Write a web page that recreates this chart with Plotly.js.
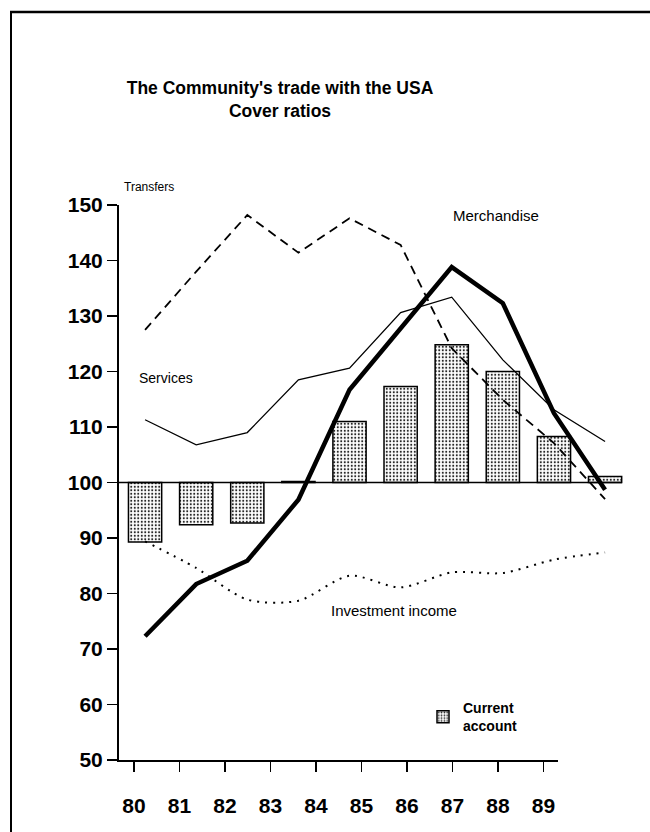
<!DOCTYPE html>
<html>
<head>
<meta charset="utf-8">
<script src="https://cdn.plot.ly/plotly-3.0.1.min.js"></script>
<style>
  html, body { margin: 0; padding: 0; background: #fff; }
  #chart { width: 650px; height: 832px; }
</style>
</head>
<body>
<div id="chart"></div>
<script>
// ---- data ----
const years = [80, 81, 82, 83, 84, 85, 86, 87, 88, 89];
const tickLabels = ["80", "81", "82", "83", "84", "85", "86", "87", "88", "89"];
const currentAccount = [89.3, 92.4, 92.7, 100.2, 111.0, 117.3, 124.8, 120.0, 108.3, 101.1];
const transfers = [127.5, 138.0, 148.2, 141.4, 147.6, 142.8, 124.2, 114.9, 107.1, 97.0];
const services = [111.3, 106.8, 109.0, 118.5, 120.6, 130.6, 133.4, 122.1, 113.1, 107.4];
const merchandise = [72.3, 81.7, 85.9, 96.9, 116.7, 127.6, 138.8, 132.3, 112.5, 98.7];
const investmentIncome = [89.4, 84.6, 78.9, 78.7, 83.2, 81.1, 83.8, 83.7, 86.1, 87.4];
const yTicks = [50, 60, 70, 80, 90, 100, 110, 120, 130, 140, 150];
const baseline = 100;

const FONT = '"Liberation Sans", Arial, Helvetica, sans-serif';
const W = 650, H = 832;
const px = v => v / W;
const py = v => 1 - v / H;

const traces = [
  {
    type: 'bar', name: 'Current<br>account',
    x: years, y: currentAccount.map(v => v - baseline), base: baseline,
    width: 0.65,
    marker: {
      color: '#ffffff',
      line: { color: '#000', width: 1.5 },
      pattern: { shape: '.', fgcolor: '#222', bgcolor: '#fff', size: 3.5, solidity: 0.28 }
    },
    showlegend: true, hoverinfo: 'skip'
  },
  {
    type: 'scatter', mode: 'lines', name: 'Investment income',
    x: years, y: investmentIncome,
    line: { color: '#000', width: 2, dash: '2px,6px', shape: 'spline', smoothing: 0.8 },
    showlegend: false, hoverinfo: 'skip'
  },
  {
    type: 'scatter', mode: 'lines', name: 'Transfers',
    x: years, y: transfers,
    line: { color: '#000', width: 1.8, dash: '9px,6px' },
    showlegend: false, hoverinfo: 'skip'
  },
  {
    type: 'scatter', mode: 'lines', name: 'Services',
    x: years, y: services,
    line: { color: '#000', width: 1.3 },
    showlegend: false, hoverinfo: 'skip'
  },
  {
    type: 'scatter', mode: 'lines', name: 'Merchandise',
    x: years, y: merchandise,
    line: { color: '#000', width: 4.5 },
    showlegend: false, hoverinfo: 'skip'
  },
  {
    // carrier for the labelled x axis
    type: 'scatter', mode: 'lines', x: years, y: years.map(() => null),
    xaxis: 'x2', yaxis: 'y', showlegend: false, hoverinfo: 'skip'
  }
];

const layout = {
  width: W, height: H,
  margin: { l: 0, r: 0, t: 0, b: 0, pad: 0 },
  paper_bgcolor: '#fff', plot_bgcolor: 'rgba(0,0,0,0)',
  font: { family: FONT, color: '#000' },
  title: {
    text: "The Community's trade with the USA<br>Cover ratios",
    x: px(280), xanchor: 'center', xref: 'paper',
    y: 1 - 94 / H, yanchor: 'top', yref: 'container',
    font: { family: FONT, size: 17.5, weight: 'bold', color: '#000' }
  },
  xaxis: {
    domain: [px(119), px(625)],
    range: [79.49, 89.39],
    visible: false, fixedrange: true
  },
  xaxis2: {
    domain: [px(119), px(558)],
    anchor: 'y',
    range: [79.67, 89.32],
    tickmode: 'array', tickvals: years, ticktext: tickLabels,
    ticks: 'outside', ticklen: 10, tickwidth: 1.5, tickcolor: '#000',
    showline: true, linecolor: '#000', linewidth: 2,
    showgrid: false, zeroline: false,
    ticklabelstandoff: 16,
    tickfont: { family: FONT, size: 21, weight: 'bold', color: '#000' },
    automargin: false, fixedrange: true
  },
  yaxis: {
    domain: [1 - 760 / H, 1 - 205 / H],
    range: [50, 150],
    anchor: 'x',
    tickmode: 'array', tickvals: yTicks,
    ticks: 'outside', ticklen: 10, tickwidth: 1.5, tickcolor: '#000',
    showline: true, linecolor: '#000', linewidth: 2,
    showgrid: false, zeroline: false,
    ticklabelstandoff: 0,
    tickfont: { family: FONT, size: 21, weight: 'bold', color: '#000' },
    automargin: false, fixedrange: true
  },
  showlegend: true,
  legend: {
    x: px(423), xanchor: 'left', xref: 'paper',
    y: py(692), yanchor: 'top', yref: 'paper',
    bgcolor: 'rgba(0,0,0,0)', borderwidth: 0,
    font: { family: FONT, size: 14, weight: 'bold', color: '#000' },
    itemclick: false, itemdoubleclick: false
  },
  shapes: [
    // reference line at 100
    { type: 'line', xref: 'paper', yref: 'y', x0: px(119), x1: px(622), y0: baseline, y1: baseline,
      line: { color: '#000', width: 1.6 } },
    // frame: top and left edges
    { type: 'line', xref: 'paper', yref: 'paper', x0: px(10), x1: 1, y0: py(12), y1: py(12),
      line: { color: '#000', width: 2.5 } },
    { type: 'line', xref: 'paper', yref: 'paper', x0: px(11), x1: px(11), y0: py(12), y1: 0,
      line: { color: '#000', width: 2 } }
  ],
  annotations: [
    { text: 'Transfers', xref: 'paper', yref: 'paper', x: px(149), y: py(187),
      xanchor: 'center', yanchor: 'middle',
      showarrow: false, font: { family: FONT, size: 12, color: '#000' } },
    { text: 'Services', xref: 'paper', yref: 'paper', x: px(166), y: py(378),
      xanchor: 'center', yanchor: 'middle',
      showarrow: false, font: { family: FONT, size: 14, color: '#000' } },
    { text: 'Merchandise', xref: 'paper', yref: 'paper', x: px(496), y: py(216),
      xanchor: 'center', yanchor: 'middle',
      showarrow: false, font: { family: FONT, size: 15, color: '#000' } },
    { text: 'Investment income', xref: 'paper', yref: 'paper', x: px(394), y: py(610),
      xanchor: 'center', yanchor: 'middle',
      showarrow: false, font: { family: FONT, size: 15, color: '#000' } }
  ]
};

Plotly.newPlot('chart', traces, layout, { staticPlot: true, displayModeBar: false });
</script>
</body>
</html>
